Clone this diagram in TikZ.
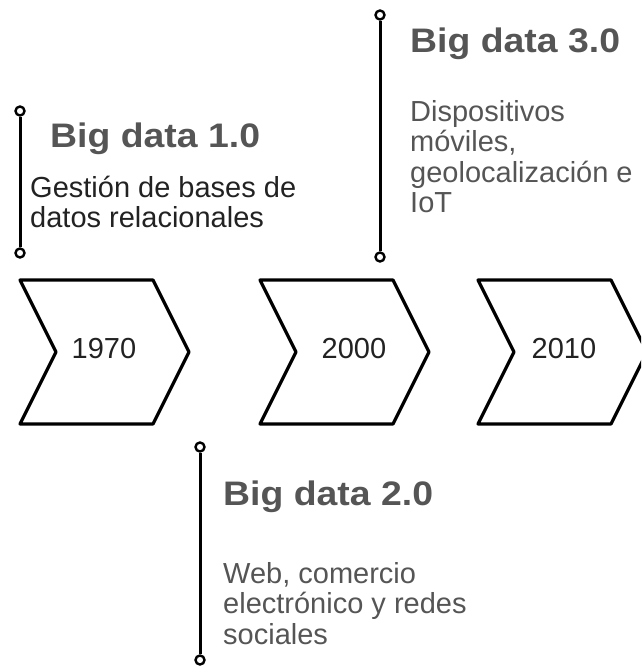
\documentclass[tikz,border=0pt]{standalone}
\usepackage{fontspec}
\usepackage{graphicx}
\setmainfont{Liberation Sans}
\definecolor{txtgray}{HTML}{555555}
\definecolor{txtdark}{HTML}{222222}
\tikzset{
  outline/.style={line width=3.2pt, line join=round},
  knob/.style={circle, draw, fill=white, line width=2.4pt, inner sep=0pt, minimum size=9pt},
  stem/.style={line width=3pt},
  heading/.style={anchor=base west, inner sep=0pt, text=txtgray,
    font=\fontsize{34}{36}\selectfont\bfseries},
  % multi-line text: the base anchor sits on the last line
  body/.style={anchor=base west, inner sep=0pt, align=left,
    font=\fontsize{29}{30.5}\selectfont},
  yearlabel/.style={anchor=base, inner sep=0pt, text=txtdark,
    font=\fontsize{29}{30}\selectfont},
  chev/.pic={\draw[outline] (0,0) -- (133,0) -- (169,72) -- (133,144)
    -- (0,144) -- (36,72) -- cycle;}
}
\newcommand{\wide}[1]{\scalebox{1.1}[1]{#1}}
\begin{document}
\begin{tikzpicture}[x=1pt, y=-1pt]
  \useasboundingbox (0,0) rectangle (641,672);
  \clip (0,0) rectangle (641,672);

  % timeline chevrons with their years
  \pic at (20,280) {chev};
  \pic at (260,280) {chev};
  \pic at (478,280) {chev};
  \node[yearlabel] (y1970) at (104,358) {1970};
  \node[yearlabel] (y2000) at (354,358) {2000};
  \node[yearlabel] (y2010) at (564,358) {2010};

  % Big data 1.0
  \node[knob] (a1) at (20,111) {};
  \node[knob] (a2) at (20,253) {};
  \draw[stem] (a1) -- (a2);
  \node[heading] (t1) at (50,147) {\wide{Big data 1.0}};
  \node[body, text=txtdark] (b1) at (30,227.5) {Gestión de bases de\\datos relacionales};

  % Big data 3.0
  \node[knob] (c1) at (380,15) {};
  \node[knob] (c2) at (380,257) {};
  \draw[stem] (c1) -- (c2);
  \node[heading] (t3) at (410,52) {\wide{Big data 3.0}};
  \node[body, text=txtgray] (b3) at (410,212.5) {Dispositivos\\móviles,\\geolocalización e\\IoT};

  % Big data 2.0
  \node[knob] (e1) at (200,447) {};
  \node[knob] (e2) at (200,660) {};
  \draw[stem] (e1) -- (e2);
  \node[heading] (t2) at (223,505) {\wide{Big data 2.0}};
  \node[body, text=txtgray] (b2) at (223,644) {Web, comercio\\electrónico y redes\\sociales};
\end{tikzpicture}
\end{document}
